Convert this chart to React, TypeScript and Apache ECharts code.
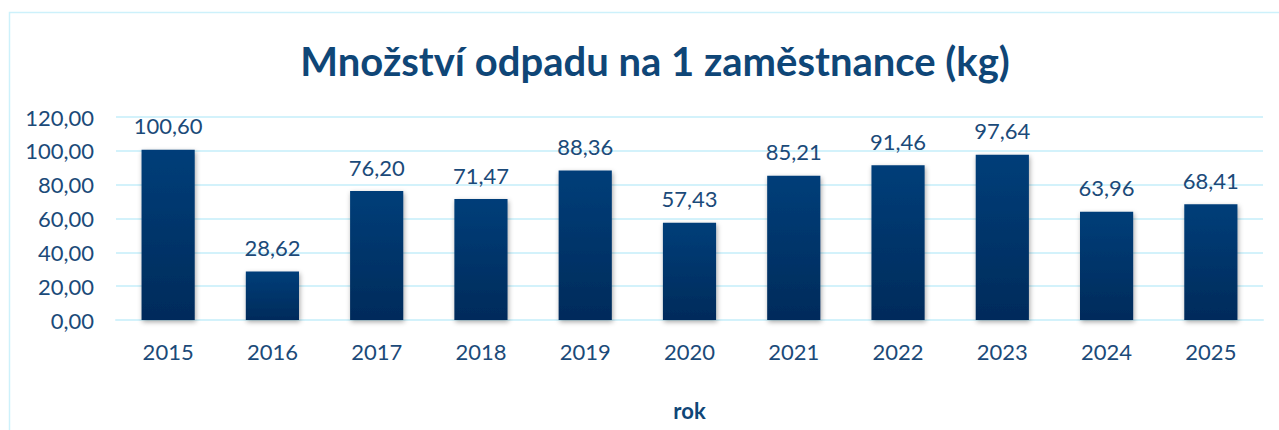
import React, { useEffect, useRef } from "react";
import * as echarts from "echarts";

const years = ["2015", "2016", "2017", "2018", "2019", "2020", "2021", "2022", "2023", "2024", "2025"];
const values = [100.6, 28.62, 76.2, 71.47, 88.36, 57.43, 85.21, 91.46, 97.64, 63.96, 68.41];
const titleText = "Množství odpadu na 1 zaměstnance (kg)";
const xAxisName = "rok";

const fmt = (v: number) => v.toFixed(2).replace(".", ",");

export default function App() {
  const ref = useRef<HTMLDivElement>(null);
  useEffect(() => {
    document.body.style.margin = "0";
    const chart = echarts.init(ref.current!, null, { renderer: "svg" });
    const textColor = "#1b4a79";
    const font = "Lato";
    chart.setOption({
      animation: false,
      backgroundColor: "#ffffff",
      title: {
        text: titleText,
        left: 650,
        top: 36,
        textAlign: "center",
        textStyle: { fontFamily: font, fontWeight: "bold", fontSize: 40, color: "#0f4677" },
      },
      graphic: [
        {
          type: "rect",
          shape: { x: 9.5, y: 12.5, width: 1400, height: 600 },
          style: { fill: "none", stroke: "#cdf1fb", lineWidth: 1.5 },
          silent: true,
        },
      ],
      grid: { left: 116, right: 16, top: 117, bottom: 110, containLabel: false },
      xAxis: {
        type: "category",
        data: years,
        name: xAxisName,
        nameLocation: "middle",
        nameGap: 79,
        nameTextStyle: { fontFamily: font, fontWeight: "bold", fontSize: 22, color: "#0f4677" },
        axisLine: { lineStyle: { color: "#d3f2fb", width: 2 } },
        axisTick: { show: false },
        axisLabel: { fontFamily: font, fontSize: 22, color: textColor, margin: 20 },
      },
      yAxis: {
        type: "value",
        min: 0,
        max: 120,
        interval: 20,
        axisLine: { show: false },
        axisTick: { show: false },
        splitLine: { lineStyle: { color: "#d3f2fb", width: 2 } },
        axisLabel: { fontFamily: font, fontSize: 22, color: textColor, margin: 22, formatter: (v: number) => fmt(v) },
      },
      series: [
        {
          type: "bar",
          data: values,
          barWidth: "51%",
          itemStyle: {
            color: new echarts.graphic.LinearGradient(0, 0, 0, 1, [
              { offset: 0, color: "#003e79" },
              { offset: 1, color: "#002b5b" },
            ]),
            shadowColor: "rgba(0,0,0,0.35)",
            shadowBlur: 5,
            shadowOffsetX: 1,
            shadowOffsetY: 2,
          },
          label: {
            show: true,
            position: "top",
            distance: 13,
            fontFamily: font,
            fontSize: 22,
            color: textColor,
            formatter: (p: any) => fmt(p.value),
          },
        },
      ],
    });
    return () => chart.dispose();
  }, []);
  return <div ref={ref} style={{ width: 1279, height: 430 }} />;
}
